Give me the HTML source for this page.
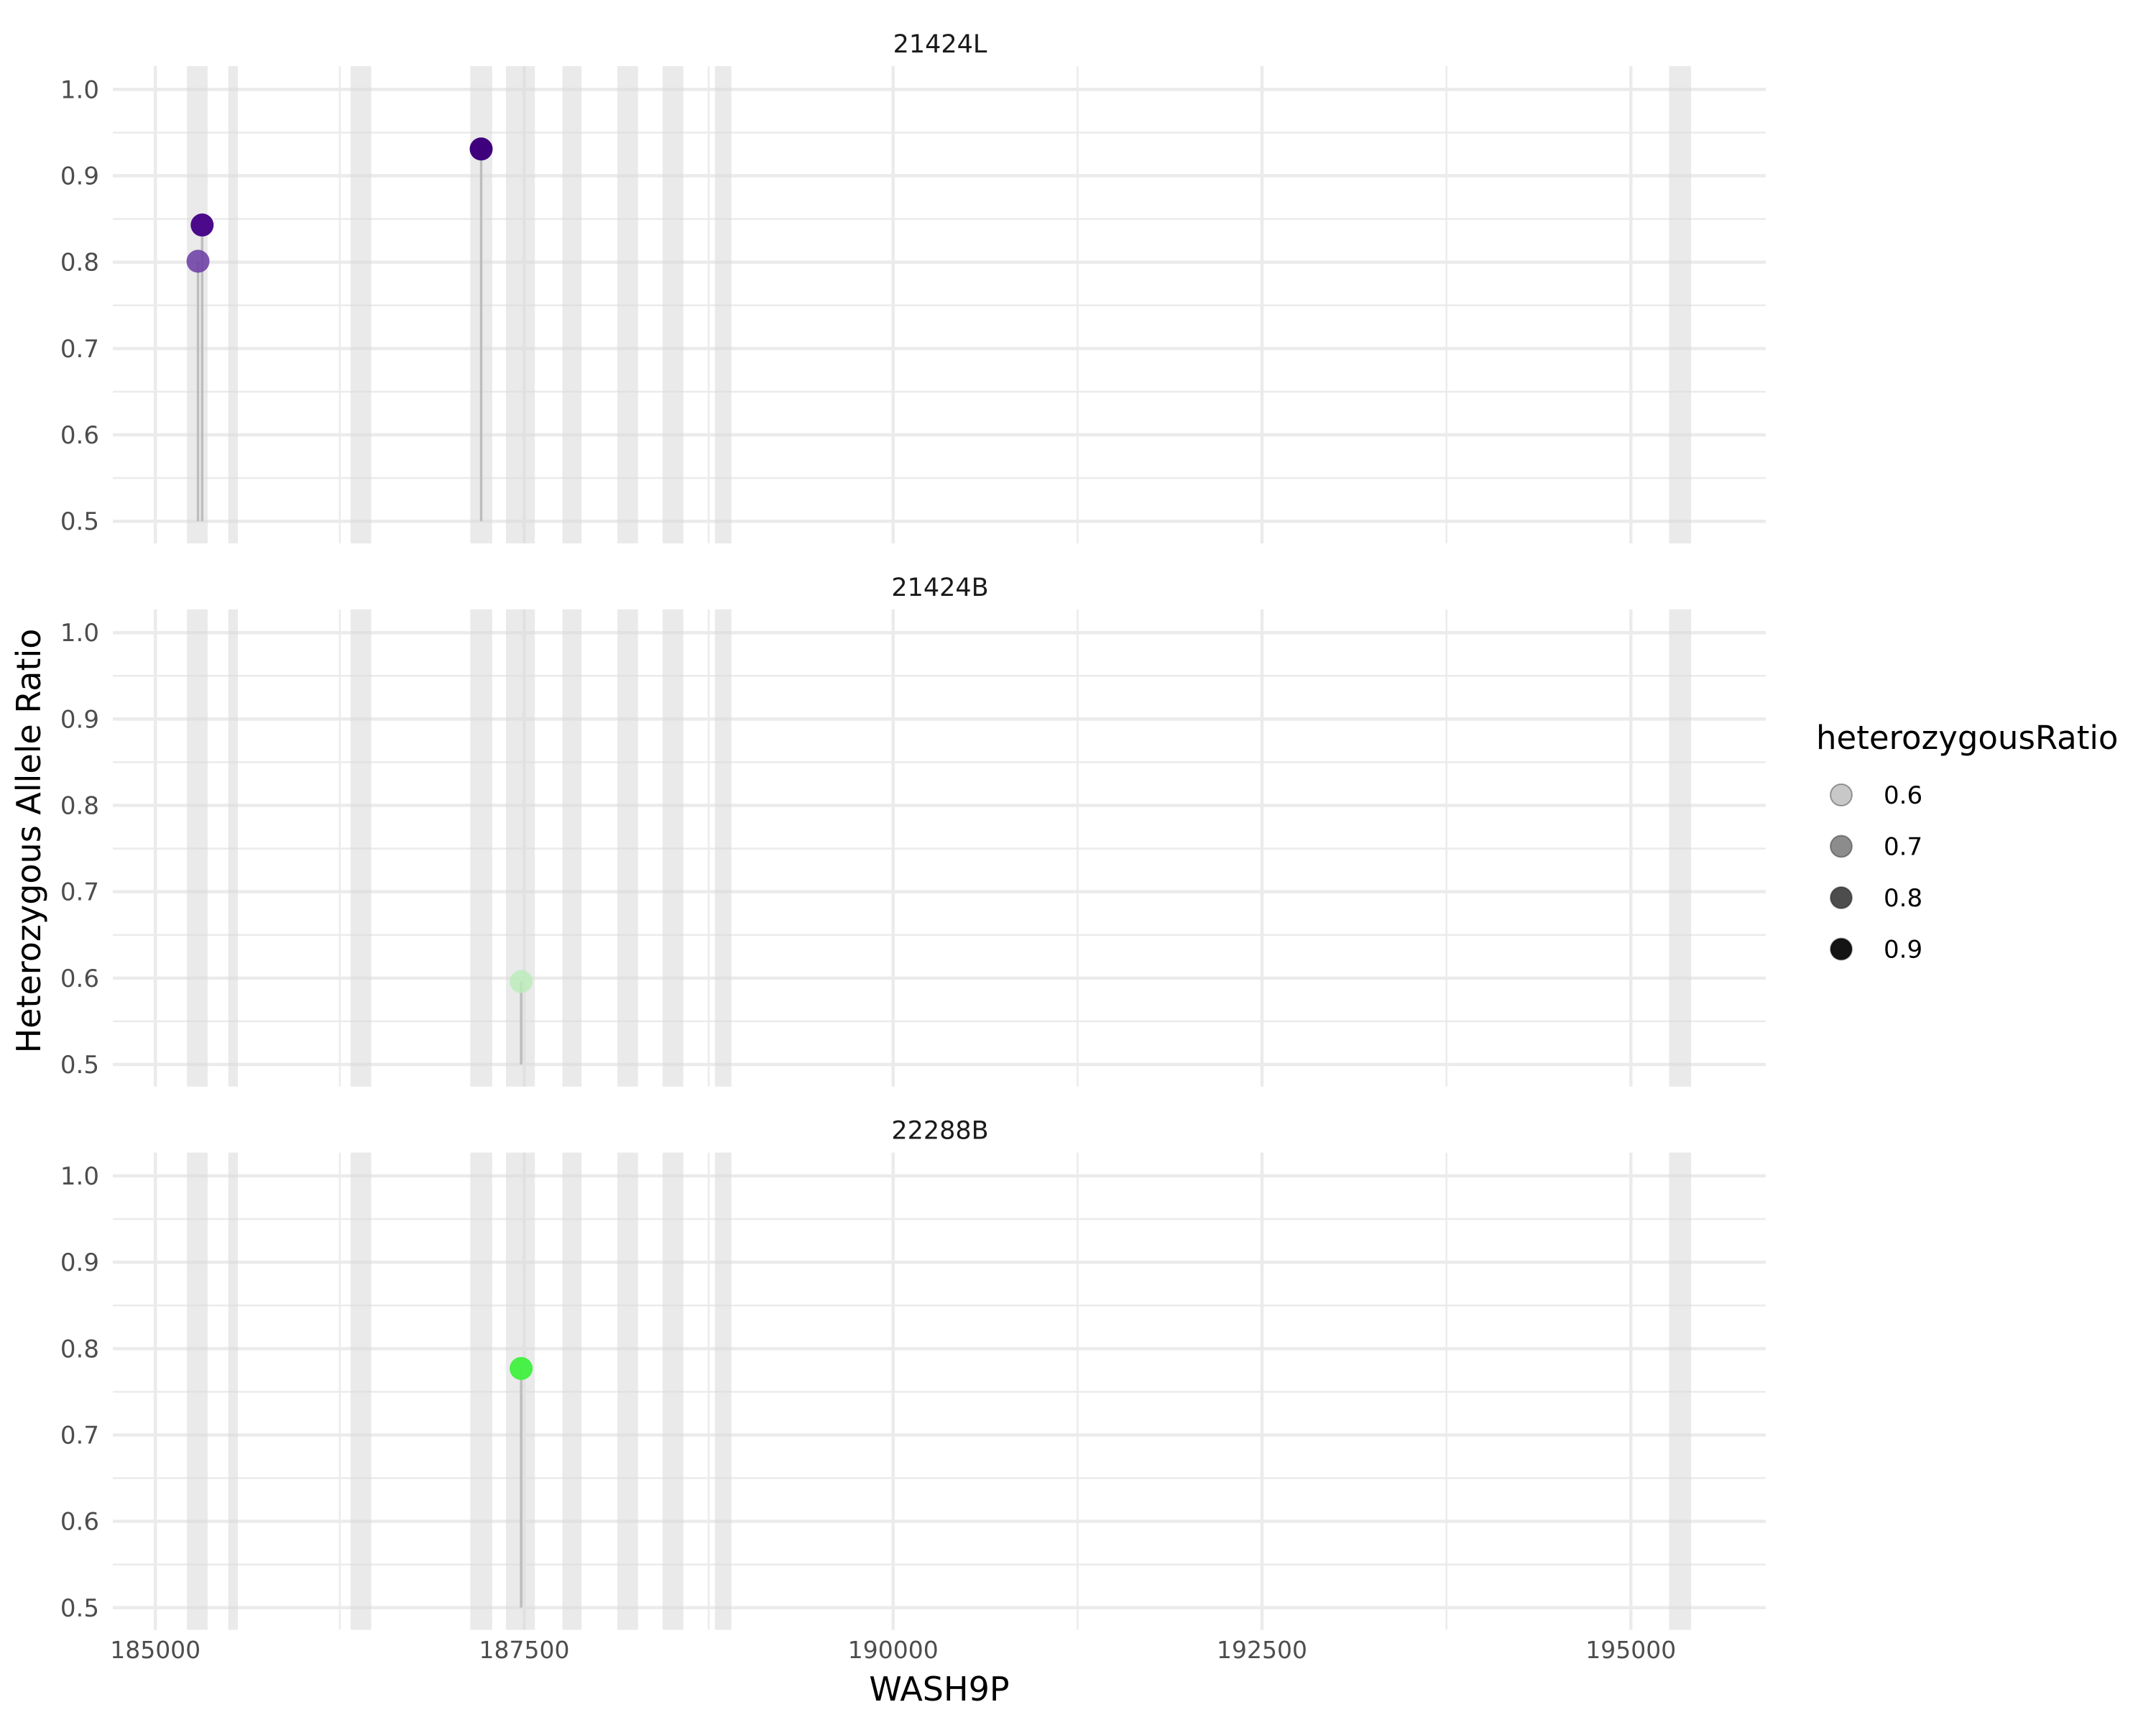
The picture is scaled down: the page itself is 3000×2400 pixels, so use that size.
<!DOCTYPE html>
<html><head><meta charset="utf-8"><style>
html,body{margin:0;padding:0;background:#fff;}
svg{display:block;font-family:"DejaVu Sans","Liberation Sans",sans-serif;}
</style></head><body>
<svg id="chart" width="3000" height="2400" viewBox="0 0 3000 2400" xmlns="http://www.w3.org/2000/svg">
<rect width="3000" height="2400" fill="#fff"/>
<g id="panels"></g>
<text x="1307" y="2366" font-size="46" text-anchor="middle" fill="#000">WASH9P</text>
<text transform="translate(56,1170) rotate(-90)" font-size="46" text-anchor="middle" fill="#000">Heterozygous Allele Ratio</text>
<g>
<text x="2527" y="1042" font-size="45" fill="#000">heterozygousRatio</text>
<g id="legend-entries"></g>
</g>
</svg>
<script>
const panelNames = ["21424L","21424B","22288B"];
const exonStarts = [185214,185494,186323,187134,187376,187758,188131,188438,188792,195259];
const exonEnds   = [185354,185559,186463,187283,187572,187888,188271,188578,188904,195408];
const pointPanel = [0,0,0,1,2];
const pointPos   = [185289,185317,187208,187479,187479];
const pointRatio = [0.801,0.843,0.931,0.596,0.777];
const pointColor = ["#6a3aa3","#4a0a8a","#3f007d","#b9ecb9","#3ff03f"];
const pointAlpha = [0.85,1,1,0.8,0.95];
const xTicks = [185000,187500,190000,192500,195000];
const xMinor = [186250,188750,191250,193750];
const yTicks = [0.5,0.6,0.7,0.8,0.9,1.0];
const yMinor = [0.55,0.65,0.75,0.85,0.95];
const legendValues = [0.6,0.7,0.8,0.9];
const legendFill = ["#c8c8c8","#8c8c8c","#4d4d4d","#141414"];

const NS="http://www.w3.org/2000/svg";
const PL=157, PR=2457, panelTop0=92, panelStep=755.8, panelH=664;
function xS(v){return 216.2+(v-185000)*0.20531;}
function yS(p,v){const top=panelTop0+p*panelStep;return top+32.4+(1.0-v)*1201.6;}
function mk(tag,attrs,parent){const e=document.createElementNS(NS,tag);for(const k in attrs)e.setAttribute(k,attrs[k]);parent.appendChild(e);return e;}
const root=document.getElementById('panels');
panelNames.forEach((name,p)=>{
  const top=panelTop0+p*panelStep, bot=top+panelH;
  const g=mk('g',{},root);
  
  
  const strip=mk('text',{x:1308,y:top-19,'font-size':35,'text-anchor':'middle',fill:'#1a1a1a'},g);
  strip.textContent=name;
  
  
  yMinor.forEach(v=>{const l=mk('line',{x1:PL,x2:PR,y1:yS(p,v),y2:yS(p,v),stroke:'#ebebeb','stroke-width':2.5},g);
    
    });
  xMinor.forEach(v=>{const l=mk('line',{x1:xS(v),x2:xS(v),y1:top,y2:bot,stroke:'#ebebeb','stroke-width':2.5},g);
    
    });
  yTicks.forEach(v=>{const l=mk('line',{x1:PL,x2:PR,y1:yS(p,v),y2:yS(p,v),stroke:'#ebebeb','stroke-width':4.5},g);
    
    
    const t=mk('text',{x:138,y:yS(p,v)+12,'font-size':34,'text-anchor':'end',fill:'#4d4d4d'},g);
    t.textContent=v.toFixed(1);
    
    });
  xTicks.forEach(v=>{const l=mk('line',{x1:xS(v),x2:xS(v),y1:top,y2:bot,stroke:'#ebebeb','stroke-width':4.5},g);
    
    });
  exonStarts.forEach((s,i)=>{const r=mk('rect',{x:xS(s),y:top,width:xS(exonEnds[i])-xS(s),height:panelH,fill:'#d9d9d9','fill-opacity':0.55},g);
    
    });
  pointPos.forEach((x,i)=>{ if(pointPanel[i]!==p) return;
    const l=mk('line',{x1:xS(x),x2:xS(x),y1:yS(p,0.5),y2:yS(p,pointRatio[i]),stroke:'#bdbdbd','stroke-width':3.5},g);
    
    });
  pointPos.forEach((x,i)=>{ if(pointPanel[i]!==p) return;
    const c=mk('circle',{cx:xS(x),cy:yS(p,pointRatio[i]),r:16,fill:pointColor[i],'fill-opacity':pointAlpha[i]},g);
    
    });
});
const xl=mk('g',{},root);


xTicks.forEach(v=>{const t=mk('text',{x:xS(v),y:2307,'font-size':33,'text-anchor':'middle',fill:'#4d4d4d'},xl);
  t.textContent=String(v);
  
  });
const lg=document.getElementById('legend-entries');
legendValues.forEach((v,i)=>{const y=1106+i*71.5;
  const c=mk('circle',{cx:2562,cy:y,r:15,fill:legendFill[i],stroke:'#000','stroke-opacity':0.35,'stroke-width':2},lg);
  
  
  const t=mk('text',{x:2621,y:y+12,'font-size':34,fill:'#000'},lg);
  t.textContent=v.toFixed(1);
  
  });
</script>
</body></html>
